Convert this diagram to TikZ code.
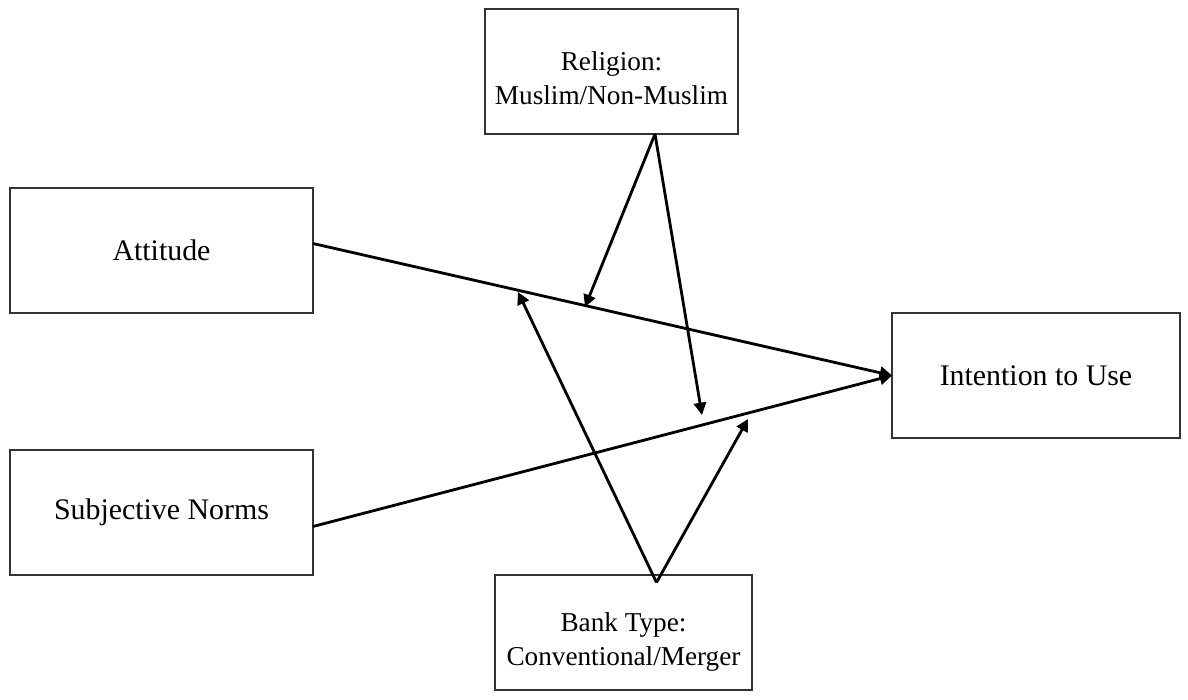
\documentclass[tikz,border=0pt]{standalone}
\usepackage{fontspec}
\setmainfont{Liberation Serif}
\usetikzlibrary{arrows.meta}
\newcommand{\twoline}[2]{\raisebox{-0.19cm}[\height][\depth]{\begin{tabular}{@{}c@{}}#1\\#2\end{tabular}}}

\begin{document}
\begin{tikzpicture}[x=0.02cm, y=-0.02cm,
  box/.style={draw=black!80, line width=0.8pt, inner sep=0pt, outer sep=0pt,
    align=center, font=\fontsize{17}{20}\selectfont},
  modbox/.style={box, font=\fontsize{15.5}{19.5}\selectfont},
  link/.style={line width=1.6pt, -{Triangle[length=7pt,width=7pt]}}]
  \useasboundingbox (0,0) rectangle (1188,700);

  \node[box, minimum width=6.06cm, minimum height=2.5cm] (att) at (161.5,250.5) {Attitude};
  \node[box, minimum width=6.06cm, minimum height=2.5cm] (sn) at (161.5,512.5) {Subjective Norms};
  \node[modbox, minimum width=5.06cm, minimum height=2.5cm] (rel) at (611.5,71.5) {\twoline{Religion:}{Muslim/Non-Muslim}};
  \node[modbox, minimum width=5.14cm, minimum height=2.3cm] (bank) at (623.5,632.5) {\twoline{Bank Type:}{Conventional/Merger}};
  \node[box, minimum width=5.76cm, minimum height=2.5cm] (int) at (1036,375.5) {Intention to Use};

  \coordinate (ra) at (585,307);
  \coordinate (rb) at (702,415);
  \coordinate (ba) at (518,292);
  \coordinate (bb) at (748,419);

  \draw[link] ([yshift=0.14cm]att.east) -- (int.west);
  \draw[link] ([yshift=-0.28cm]sn.east) -- (int.west);
  \draw[link] ([xshift=0.87cm]rel.south) -- (ra);
  \draw[link] ([xshift=0.87cm]rel.south) -- (rb);
  \draw[link] ([xshift=0.66cm,yshift=-0.15cm]bank.north) -- (ba);
  \draw[link] ([xshift=0.66cm,yshift=-0.15cm]bank.north) -- (bb);
\end{tikzpicture}
\end{document}
